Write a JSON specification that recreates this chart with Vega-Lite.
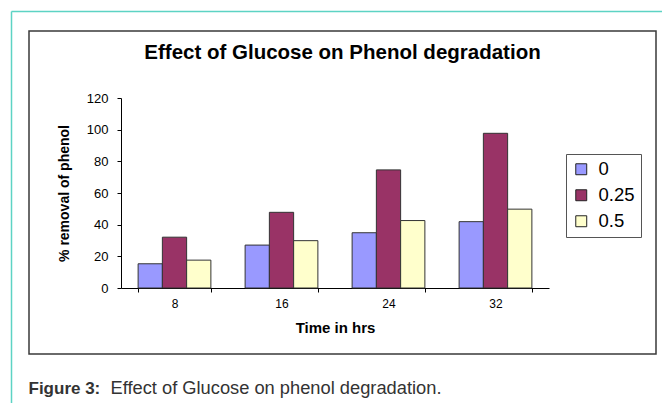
{
  "$schema": "https://vega.github.io/schema/vega-lite/v6.json",
  "width": 627,
  "height": 323,
  "autosize": {"type": "none"},
  "padding": {"left": 29, "top": 31, "right": 6, "bottom": 49},
  "background": "white",
  "config": {
    "view": {"stroke": "#3a3a3a", "strokeWidth": 1.5},
    "font": "Liberation Sans",
    "axis": {"grid": false}
  },
  "data": {
    "values": [
      {"time": "8", "glucose": "0", "value": 15.3},
      {"time": "8", "glucose": "0.25", "value": 32.1},
      {"time": "8", "glucose": "0.5", "value": 17.6},
      {"time": "16", "glucose": "0", "value": 27.1},
      {"time": "16", "glucose": "0.25", "value": 47.8},
      {"time": "16", "glucose": "0.5", "value": 29.9},
      {"time": "24", "glucose": "0", "value": 34.9},
      {"time": "24", "glucose": "0.25", "value": 74.6},
      {"time": "24", "glucose": "0.5", "value": 42.6},
      {"time": "32", "glucose": "0", "value": 41.9},
      {"time": "32", "glucose": "0.25", "value": 97.7},
      {"time": "32", "glucose": "0.5", "value": 49.8}
    ]
  },
  "resolve": {
    "scale": {"x": "independent", "y": "independent"},
    "axis": {"x": "independent", "y": "independent"}
  },
  "layer": [
    {
      "mark": {"type": "bar", "stroke": "#333333", "strokeWidth": 1},
      "encoding": {
        "x": {
          "field": "time",
          "type": "ordinal",
          "sort": ["8", "16", "24", "32"],
          "scale": {"range": [92, 520], "paddingInner": 0.32, "paddingOuter": 0.16},
          "axis": {
            "orient": "bottom",
            "offset": -66,
            "tickBand": "extent",
            "tickSize": 4,
            "tickColor": "black",
            "domainColor": "black",
            "labelAngle": 0,
            "labelPadding": 6,
            "labelFontSize": 12,
            "labelColor": "black",
            "title": "Time in hrs",
            "titleFontSize": 15,
            "titleFontWeight": "bold",
            "titleColor": "black",
            "titlePadding": 11
          }
        },
        "xOffset": {"field": "glucose", "type": "nominal", "sort": ["0", "0.25", "0.5"]},
        "y": {
          "field": "value",
          "type": "quantitative",
          "scale": {"domain": [0, 120], "range": [257, 67], "nice": false},
          "axis": {
            "orient": "left",
            "offset": -92,
            "values": [0, 20, 40, 60, 80, 100, 120],
            "tickSize": 4,
            "tickColor": "black",
            "domainColor": "black",
            "labelPadding": 9,
            "labelFontSize": 13,
            "labelColor": "black",
            "title": "% removal of phenol",
            "titleFontSize": 14,
            "titleFontWeight": "bold",
            "titleColor": "black",
            "titlePadding": 15
          }
        },
        "color": {
          "field": "glucose",
          "type": "nominal",
          "sort": ["0", "0.25", "0.5"],
          "scale": {"domain": ["0", "0.25", "0.5"], "range": ["#9999ff", "#993366", "#ffffcc"]},
          "legend": {
            "orient": "none",
            "legendX": 537,
            "legendY": 123,
            "title": null,
            "strokeColor": "#555555",
            "fillColor": "white",
            "padding": 6,
            "symbolType": "square",
            "symbolSize": 120,
            "symbolStrokeColor": "#222222",
            "symbolStrokeWidth": 1,
            "labelFontSize": 18.5,
            "labelFont": "Liberation Sans",
            "labelColor": "black",
            "labelOffset": 8,
            "rowPadding": 7
          }
        }
      }
    },
    {
      "mark": {"type": "bar", "opacity": 0},
      "encoding": {
        "x": {
          "field": "time",
          "type": "ordinal",
          "sort": ["8", "16", "24", "32"],
          "scale": {"range": [92, 520], "paddingInner": 0.32, "paddingOuter": 0.16},
          "axis": {
            "orient": "bottom",
            "offset": 0,
            "domain": false,
            "ticks": false,
            "labels": false,
            "title": "Figure 3:",
            "titleX": -1,
            "titleY": 34,
            "titleAlign": "left",
            "titleBaseline": "middle",
            "titleFontSize": 17,
            "titleFontWeight": "bold",
            "titleColor": "#333333"
          }
        },
        "y": {
          "field": "value",
          "type": "quantitative",
          "scale": {"domain": [0, 120], "range": [257, 67], "nice": false},
          "axis": {
            "orient": "right",
            "offset": 0,
            "domain": false,
            "ticks": false,
            "labels": false,
            "title": "Effect of Glucose on phenol degradation.",
            "titleAngle": 0,
            "titleX": -546,
            "titleY": 357,
            "titleAlign": "left",
            "titleBaseline": "middle",
            "titleFontSize": 18.3,
            "titleFontWeight": "normal",
            "titleColor": "#333333"
          }
        }
      }
    },
    {
      "mark": {"type": "bar", "opacity": 0},
      "encoding": {
        "x": {
          "field": "time",
          "type": "ordinal",
          "sort": ["8", "16", "24", "32"],
          "scale": {"range": [-18, 720]},
          "axis": {
            "orient": "top",
            "offset": 20,
            "domainColor": "#5dd3c4",
            "domainWidth": 1.5,
            "ticks": false,
            "labels": false,
            "title": "Effect of Glucose on Phenol degradation",
            "titleX": 313,
            "titleY": 41,
            "titleAlign": "center",
            "titleBaseline": "middle",
            "titleFontSize": 20.5,
            "titleFontWeight": "bold",
            "titleColor": "black"
          }
        },
        "y": {
          "field": "value",
          "type": "quantitative",
          "scale": {"domain": [0, 120], "range": [460, -20], "nice": false},
          "axis": {
            "orient": "left",
            "offset": 18,
            "domainColor": "#5dd3c4",
            "domainWidth": 1.5,
            "ticks": false,
            "labels": false,
            "title": null
          }
        }
      }
    }
  ]
}
